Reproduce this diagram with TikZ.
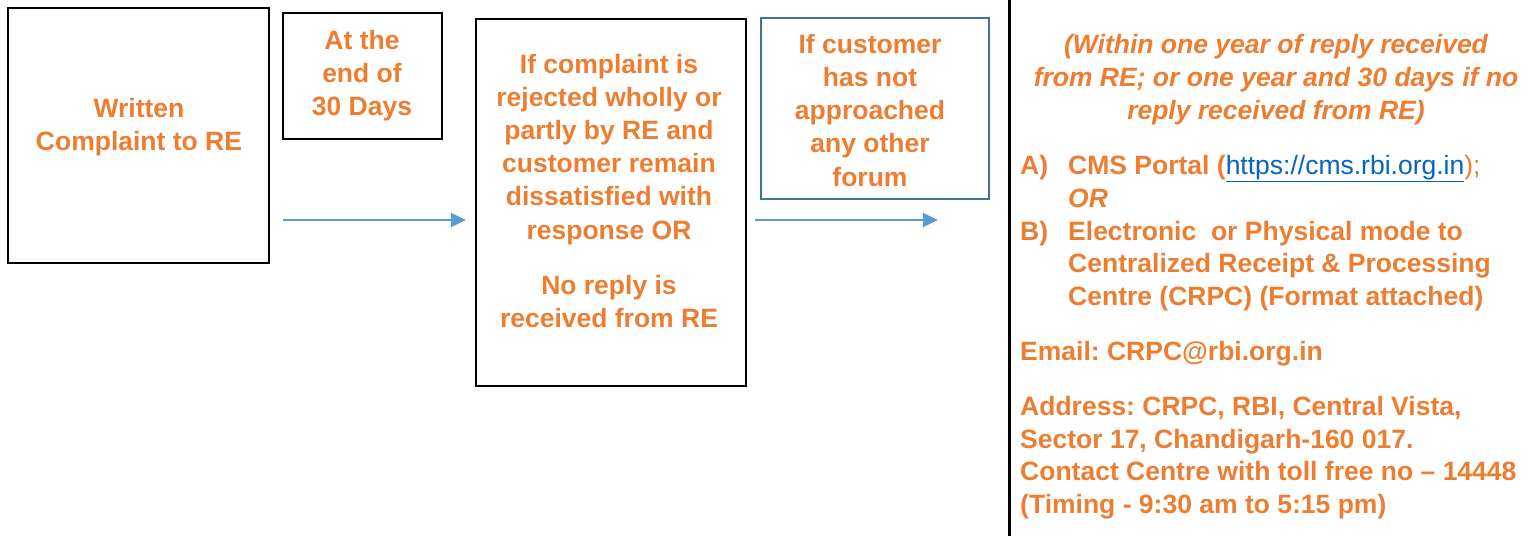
\documentclass[tikz,border=0pt]{standalone}
\usepackage{fontspec}
\setmainfont{Liberation Sans}
\usetikzlibrary{arrows.meta}
\definecolor{txtorange}{HTML}{ED7D31}
\definecolor{arrowblue}{HTML}{5B9BD5}
\definecolor{boxblue}{HTML}{41719C}
\definecolor{linkblue}{HTML}{0563C1}
\frenchspacing
\begin{document}
\begin{tikzpicture}[x=1pt,y=-1pt,
  blackbox/.style={draw=black,line width=2.8pt,fill=none},
  bluebox/.style={draw=boxblue,line width=2.8pt,fill=none},
  txt/.style={text=txtorange,font=\fontsize{26.5}{33}\selectfont\bfseries,inner sep=0pt},
  ctxt/.style={txt,anchor=base},
  ltxt/.style={txt,anchor=base west},
  itxt/.style={ctxt,font=\fontsize{26.5}{33}\selectfont\bfseries\itshape},
  flow/.style={draw=arrowblue,line width=1.8pt,-{Triangle[length=15pt,width=14pt]}}
]
\useasboundingbox (0,0) rectangle (1534,536);
% boxes
\path[blackbox] (8,8) rectangle (269,263);
\path[blackbox] (283,13) rectangle (442,139);
\path[blackbox] (476,19) rectangle (746,386);
\path[bluebox] (761,18) rectangle (989,199);
\coordinate (vtop) at (1009,0);
\coordinate (vbot) at (1009,536);
\draw[line width=3pt] (vtop) -- (vbot);
% box 1
\node[ctxt] (b1l1) at (139,117) {Written};
\node[ctxt] (b1l2) at (139,150) {Complaint to RE};
% box 2
\node[ctxt] (b2l1) at (362,49) {At the};
\node[ctxt] (b2l2) at (362,82) {end of};
\node[ctxt] (b2l3) at (362,115) {30 Days};
% box 3
\node[ctxt] (b3l1) at (609,73) {If complaint is};
\node[ctxt] (b3l2) at (609,106) {rejected wholly or};
\node[ctxt] (b3l3) at (609,139) {partly by RE and};
\node[ctxt] (b3l4) at (609,172) {customer remain};
\node[ctxt] (b3l5) at (609,205) {dissatisfied with};
\node[ctxt] (b3l6) at (609,239) {response OR};
\node[ctxt] (b3l7) at (609,294) {No reply is};
\node[ctxt] (b3l8) at (609,327) {received from RE};
% box 4
\node[ctxt] (b4l1) at (870,53) {If customer};
\node[ctxt] (b4l2) at (870,86) {has not};
\node[ctxt] (b4l3) at (870,119) {approached};
\node[ctxt] (b4l4) at (870,152) {any other};
\node[ctxt] (b4l5) at (870,186) {forum};
% arrows
\coordinate (a1s) at (283,220);
\coordinate (a1e) at (466,220);
\coordinate (a2s) at (755,220);
\coordinate (a2e) at (938,220);
\draw[flow] (a1s) -- (a1e);
\draw[flow] (a2s) -- (a2e);
% right panel
\node[itxt] (r1) at (1276,53) {(Within one year of reply received};
\node[itxt] (r2) at (1276,86) {from RE; or one year and 30 days if no};
\node[itxt] (r3) at (1276,119) {reply received from RE)};
\node[ltxt] (la) at (1020,174) {A)};
\node[ltxt] (la1) at (1068,174) {CMS Portal (\textcolor{linkblue}{\mdseries\underline{https://cms.rbi.org.in}}\mdseries);};
\node[ltxt,font=\fontsize{26.5}{33}\selectfont\bfseries\itshape] (la2) at (1068,207) {OR};
\node[ltxt] (lb) at (1020,240) {B)};
\node[ltxt] (lb1) at (1068,240) {Electronic\ \ or Physical mode to};
\node[ltxt] (lb2) at (1068,272) {Centralized Receipt \& Processing};
\node[ltxt] (lb3) at (1068,305) {Centre (CRPC) (Format attached)};
\node[ltxt] (em) at (1020,360) {Email: CRPC@rbi.org.in};
\node[ltxt] (ad1) at (1020,415) {Address: CRPC, RBI, Central Vista,};
\node[ltxt] (ad2) at (1020,448) {Sector 17, Chandigarh-160 017.};
\node[ltxt] (ad3) at (1020,480) {Contact Centre with toll free no – 14448};
\node[ltxt] (ad4) at (1020,513) {(Timing - 9:30 am to 5:15 pm)};
\end{tikzpicture}
\end{document}
